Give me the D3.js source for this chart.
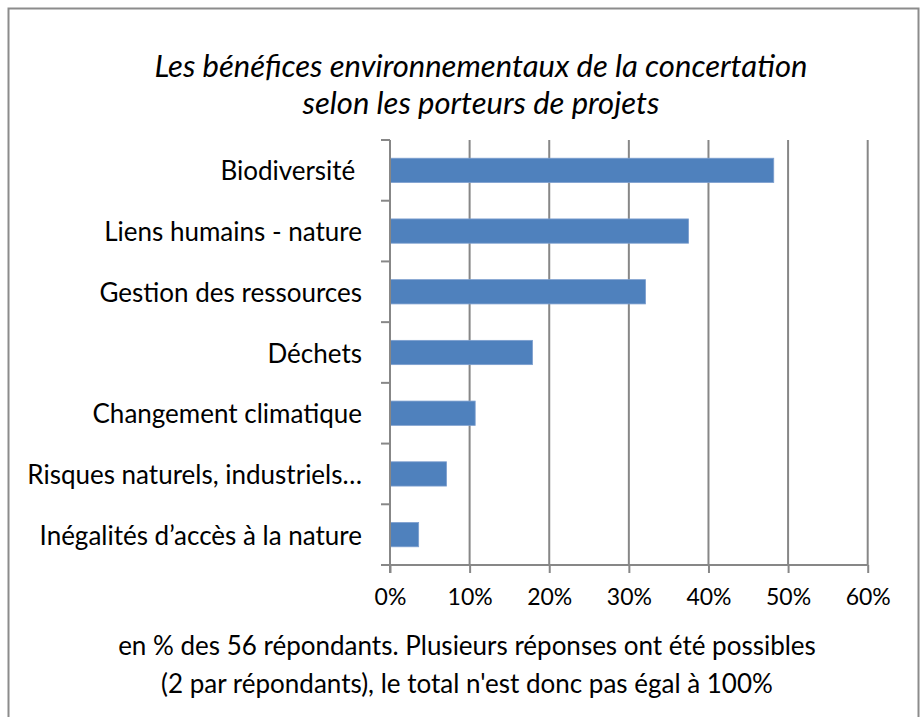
<!DOCTYPE html>
<html>
<head>
<meta charset="utf-8">
<script src="https://cdn.jsdelivr.net/npm/d3@7"></script>
<style>
  html, body { margin: 0; padding: 0; background: #fff; }
  svg { display: block; }
  text { font-family: Lato, "Open Sans", sans-serif; fill: #000; }
</style>
</head>
<body>
<svg id="chart" width="920" height="717"></svg>
<script>
const categories = [
  "Biodiversité ",
  "Liens humains - nature",
  "Gestion des ressources",
  "Déchets",
  "Changement climatique",
  "Risques naturels, industriels…",
  "Inégalités d’accès à la nature"
];
const values = [48.2, 37.5, 32.1, 17.9, 10.7, 7.1, 3.6];
const xTicks = [0, 10, 20, 30, 40, 50, 60];
const titleLines = [
  "Les bénéfices environnementaux de la concertation",
  "selon les porteurs de projets"
];
const noteLines = [
  "en % des 56 répondants. Plusieurs réponses ont été possibles",
  "(2 par répondants), le total n'est donc pas égal à 100%"
];

const svg = d3.select("#chart");
const plot = { left: 390, right: 867.7, top: 140, bottom: 565 };
const gridColor = "#878787";

// frame
svg.append("rect")
  .attr("x", 8.5).attr("y", 8.5)
  .attr("width", 910).attr("height", 730)
  .attr("fill", "#fff")
  .attr("stroke", "#8c8c8c").attr("stroke-width", 2);

const x = d3.scaleLinear().domain([0, 60]).range([plot.left, plot.right]);
const y = d3.scaleBand().domain(categories).range([plot.top, plot.bottom])
  .paddingInner(0.6).paddingOuter(0.3);

// gridlines
svg.append("g").selectAll("line")
  .data(xTicks.filter(d => d > 0))
  .join("line")
  .attr("x1", d => x(d)).attr("x2", d => x(d))
  .attr("y1", plot.top).attr("y2", plot.bottom)
  .attr("stroke", gridColor).attr("stroke-width", 2);

// bars
svg.append("g").selectAll("rect")
  .data(categories)
  .join("rect")
  .attr("x", x(0))
  .attr("y", d => y(d))
  .attr("width", (d, i) => x(values[i]) - x(0))
  .attr("height", y.bandwidth())
  .attr("fill", "#4f81bd")
  .attr("stroke", "#7d9fcf").attr("stroke-width", 0.8);

// x axis
const xAxis = d3.axisBottom(x).tickValues(xTicks)
  .tickFormat(d => d + "%").tickSize(8).tickPadding(16);
const gx = svg.append("g").attr("transform", `translate(0,${plot.bottom})`).call(xAxis);
gx.select(".domain").attr("stroke", gridColor).attr("stroke-width", 2)
  .attr("d", `M${plot.left - 9},0H${plot.right}`);
gx.selectAll(".tick line").attr("stroke", gridColor).attr("stroke-width", 2);
gx.selectAll(".tick text").style("font-size", "23px").style("font-family", "Lato, sans-serif")
  .attr("fill", "#000");

// y axis line and boundary ticks
svg.append("line")
  .attr("x1", plot.left).attr("x2", plot.left)
  .attr("y1", plot.top).attr("y2", plot.bottom + 8)
  .attr("stroke", gridColor).attr("stroke-width", 2);
const boundaries = categories.map(d => y(d) - y.step() * y.paddingOuter());
boundaries.push(plot.bottom);
svg.append("g").selectAll("line")
  .data(boundaries)
  .join("line")
  .attr("x1", plot.left - 9).attr("x2", plot.left)
  .attr("y1", d => d).attr("y2", d => d)
  .attr("stroke", gridColor).attr("stroke-width", 2);

// category labels
svg.append("g").selectAll("text")
  .data(categories)
  .join("text")
  .attr("x", 362)
  .attr("y", d => y(d) + y.bandwidth() / 2)
  .attr("text-anchor", "end")
  .attr("dominant-baseline", "central")
  .style("font-size", "26px")
  .style("white-space", "pre")
  .attr("xml:space", "preserve")
  .text(d => d);

// title
svg.append("g").selectAll("text")
  .data(titleLines)
  .join("text")
  .attr("x", 481)
  .attr("y", (d, i) => 77 + i * 37)
  .attr("text-anchor", "middle")
  .style("font-size", "31px")
  .style("font-style", "italic")
  .text(d => d);

// footnote
svg.append("g").selectAll("text")
  .data(noteLines)
  .join("text")
  .attr("x", 467)
  .attr("y", (d, i) => 655 + i * 38)
  .attr("text-anchor", "middle")
  .style("font-size", "26px")
  .text(d => d);
</script>
</body>
</html>
